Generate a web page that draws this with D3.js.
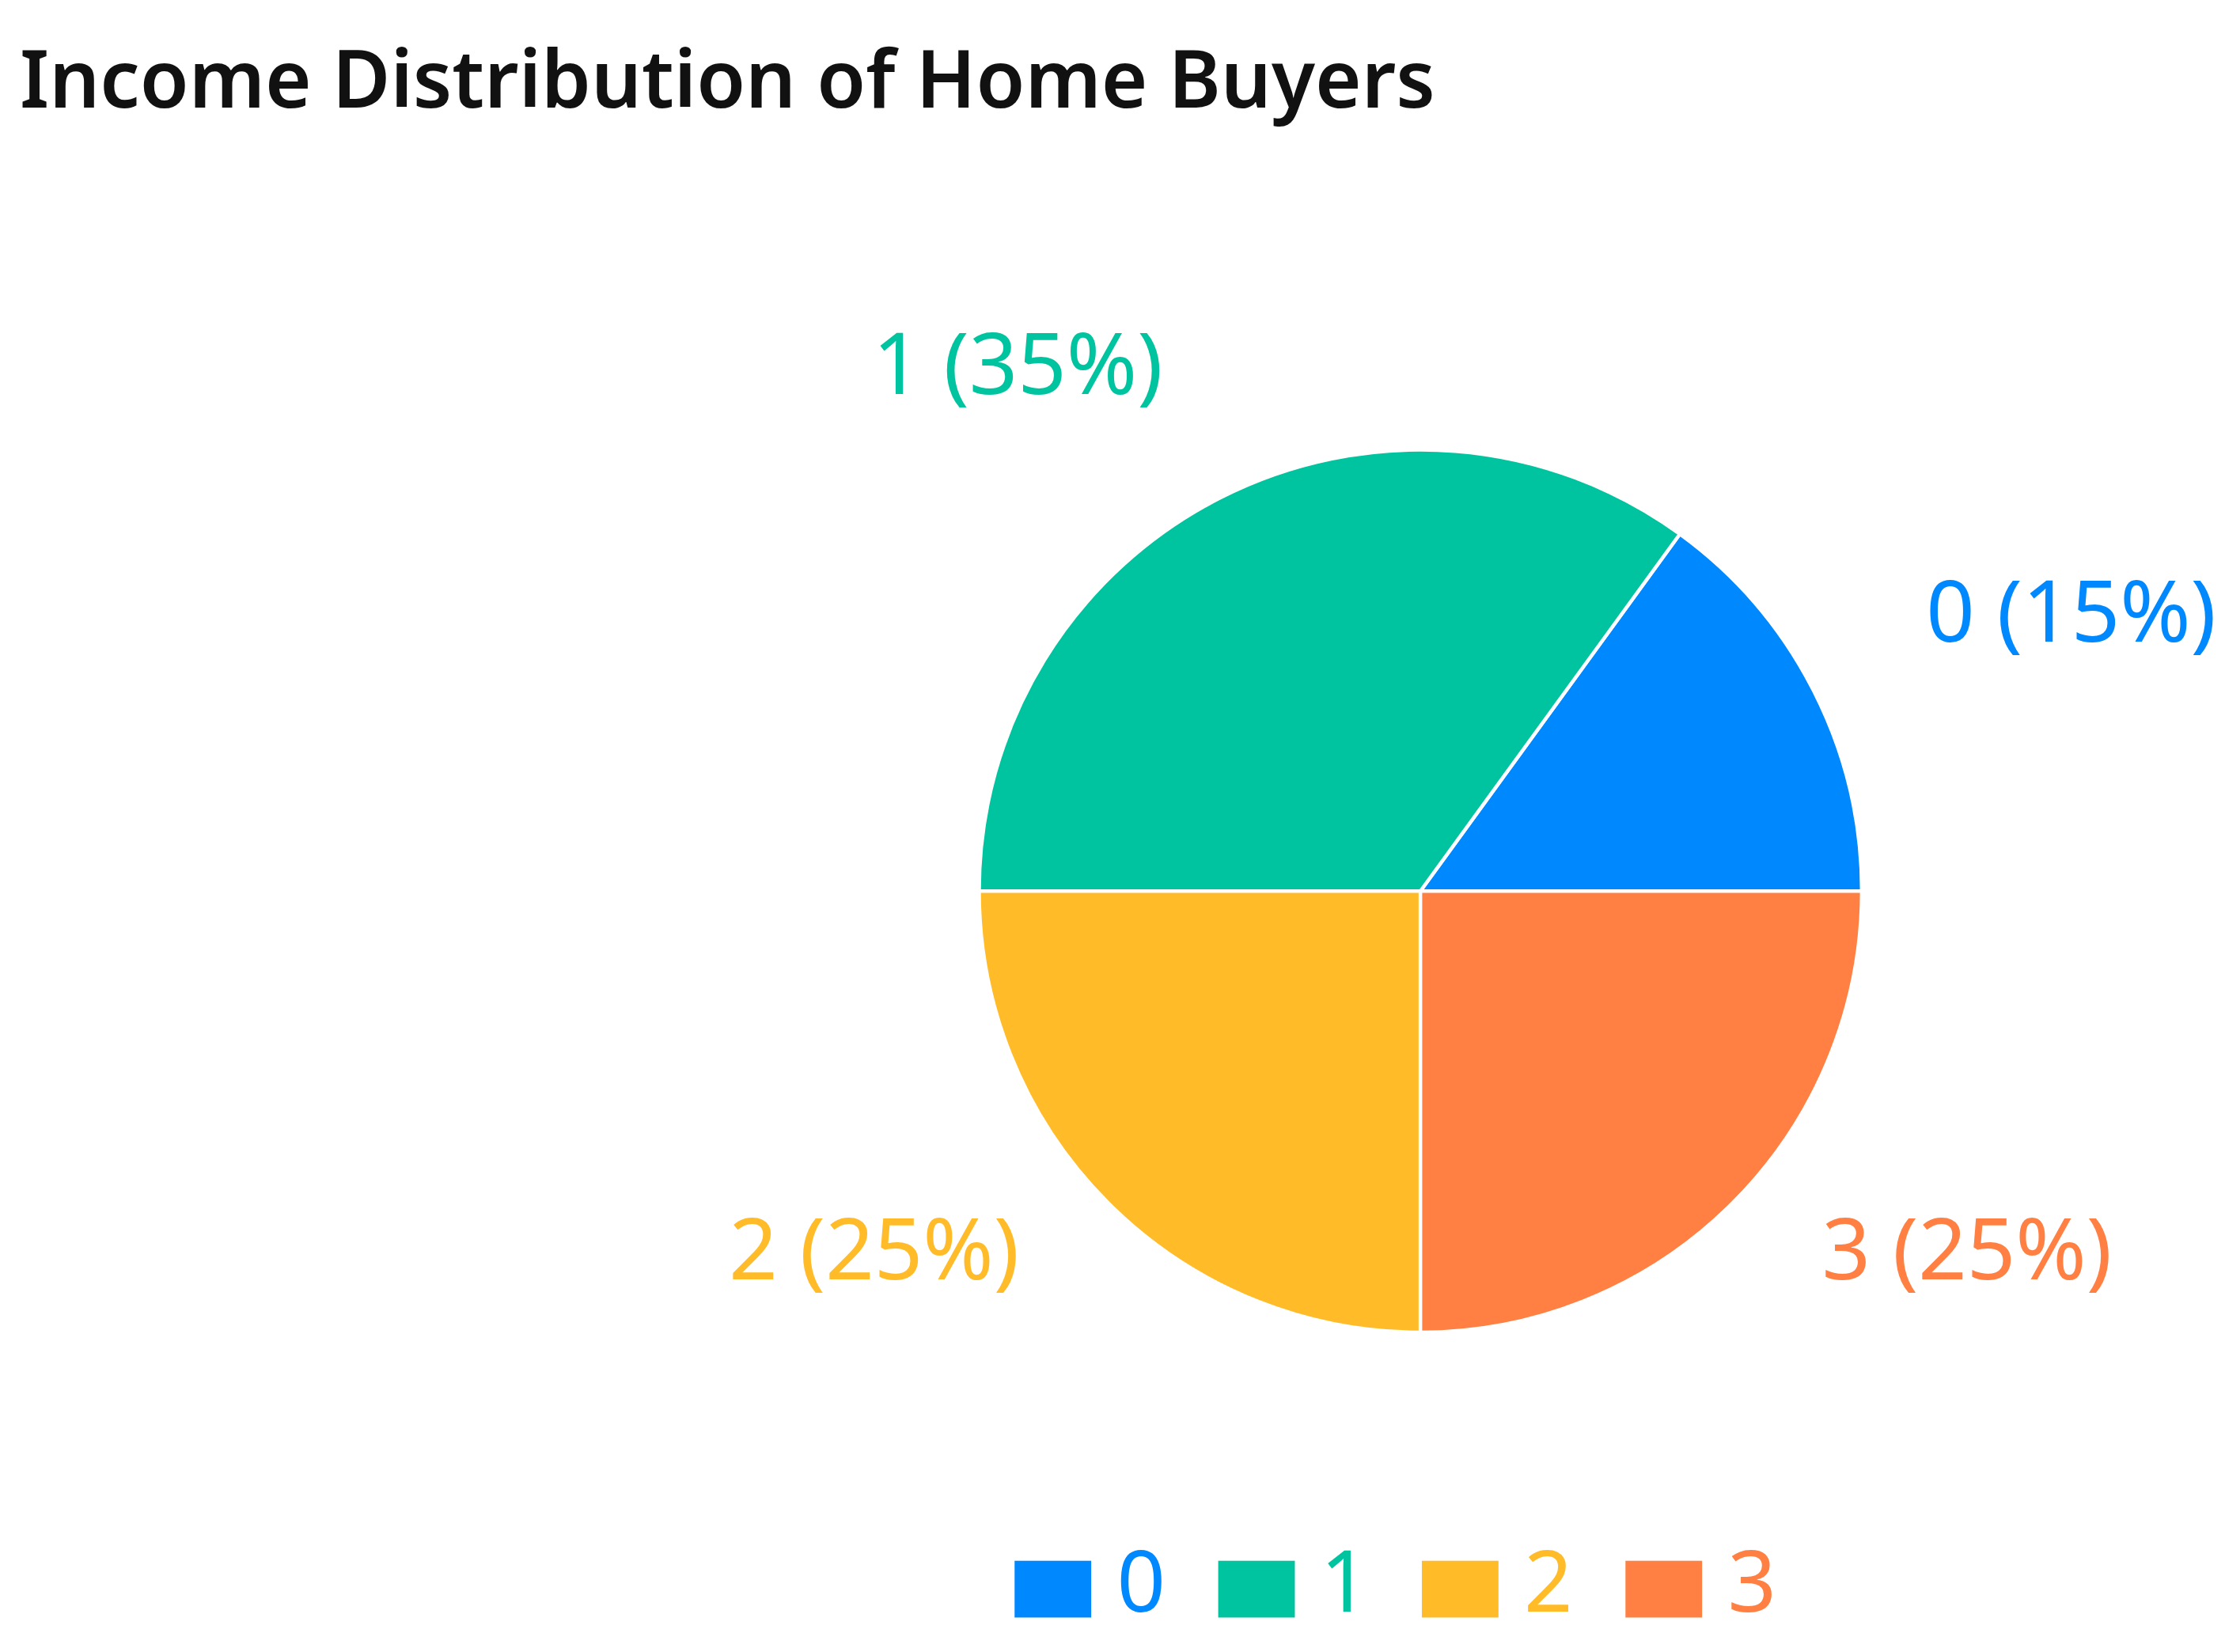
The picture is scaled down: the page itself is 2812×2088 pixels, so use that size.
<!DOCTYPE html>
<html><head><meta charset="utf-8">
<script src="https://cdn.jsdelivr.net/npm/d3@7"></script>
<style>body{margin:0;background:#fff}</style>
</head><body>
<svg id="c" width="2812" height="2088"></svg>
<script>
const categories = ["0","1","2","3"];
const values = [15,35,25,25];
const colors = ["#0088FE","#00C49F","#FFBB28","#FF8042"];
const title = "Income Distribution of Home Buyers";

const s = 2812/1568;
const svg = d3.select("#c");
const font = "'Noto Sans', 'Open Sans', sans-serif";
svg.append("text").attr("x",14*s).attr("y",76*s).attr("font-family",font)
  .attr("font-weight",600).attr("font-size",56*s).attr("fill","#111").text(title);

const cx = 1001*s, cy = 628*s, r = 311*s;
const pie = d3.pie().sort(null).startAngle(Math.PI/2).endAngle(Math.PI/2-2*Math.PI);
const arcs = pie(values);
const arc = d3.arc().innerRadius(0).outerRadius(r);
const g = svg.append("g").attr("transform",`translate(${cx},${cy})`);
g.selectAll("path").data(arcs).join("path").attr("d",arc)
  .attr("fill",(d,i)=>colors[i]).attr("stroke","#fff").attr("stroke-width",2.5*s);
const total = d3.sum(values);
const lr = 400*s;
g.selectAll("text.l").data(arcs).join("text").attr("class","l")
  .each(function(d,i){
    const a=(d.startAngle+d.endAngle)/2;
    const x=Math.sin(a)*lr, y=-Math.cos(a)*lr;
    d3.select(this).attr("x",x).attr("y",y - (y>0?25*s:10*s))
      .attr("text-anchor",x>0?"start":"end").attr("dominant-baseline","middle");
  })
  .attr("font-family",font).attr("font-size",60*s).attr("fill",(d,i)=>colors[i])
  .text((d,i)=>`${categories[i]} (${Math.round(values[i]/total*100)}%)`);

const lg = svg.append("g");
categories.forEach((c,i)=>{
  const x0=(715+143.5*i)*s;
  lg.append("rect").attr("x",x0).attr("y",1100*s).attr("width",54*s).attr("height",40*s).attr("fill",colors[i]);
  lg.append("text").attr("x",x0+72*s).attr("y",1120*s).attr("dominant-baseline","middle")
    .attr("font-family",font).attr("font-size",60*s).attr("fill",colors[i]).text(c);
});
</script>
</body></html>
